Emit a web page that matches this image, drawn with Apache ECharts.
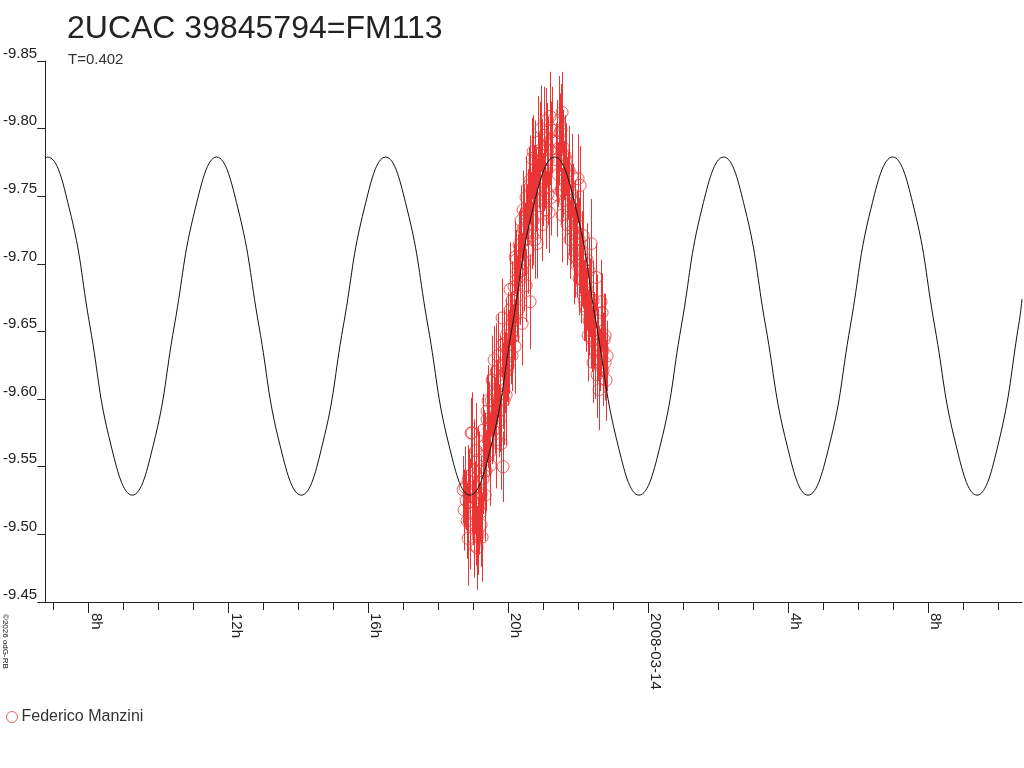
<!DOCTYPE html>
<html>
<head>
<meta charset="utf-8">
<script src="https://cdn.jsdelivr.net/npm/echarts@6/dist/echarts.min.js"></script>
<style>html,body{margin:0;padding:0;background:#fff;}#c{width:1024px;height:768px;}</style>
</head>
<body>
<div id="c"></div>
<script>
// Observation times in hours counted from 2008-03-13 00h
const obsHours = [
18.714,18.771,18.800,18.829,18.857,18.886,18.914,18.943,18.971,19.000,
19.029,19.057,19.086,19.114,19.143,19.143,19.171,19.200,19.229,19.257,
19.286,19.314,19.343,19.371,19.400,19.400,19.429,19.457,19.486,19.514,
19.543,19.571,19.600,19.629,19.657,19.686,19.714,19.743,19.771,19.800,
19.829,19.857,19.857,19.886,19.914,19.943,19.971,20.000,20.029,20.057,
20.086,20.114,20.143,20.171,20.200,20.200,20.229,20.257,20.286,20.314,
20.343,20.371,20.400,20.429,20.429,20.457,20.486,20.514,20.543,20.571,
20.600,20.629,20.657,20.686,20.714,20.714,20.743,20.771,20.800,20.829,
20.857,20.886,20.914,20.943,20.971,21.000,21.029,21.057,21.086,21.114,
21.143,21.171,21.200,21.200,21.229,21.257,
21.371,21.400,21.429,21.457,21.486,21.514,21.543,21.543,21.571,21.600,
21.629,21.657,21.686,21.714,21.743,21.771,21.800,21.829,21.857,21.886,
21.914,21.943,21.971,22.000,22.029,22.057,22.057,22.086,22.114,22.143,
22.171,22.200,22.229,22.257,22.286,22.314,22.343,22.371,22.400,22.429,
22.457,22.486,22.514,22.543,22.571,22.600,22.629,22.657,22.686,22.714,
22.743,22.771,22.800,
18.743,18.857,18.914,18.971,19.029,19.086,19.171,19.229,19.286,19.343,
19.429,19.486,19.543,19.600,19.657,19.714,19.771,19.829,19.886,19.943,
20.000,20.057,20.114,20.171,20.229,20.286,20.343,20.400,20.457,20.514,
20.571,20.629,20.686,20.771,20.829,20.914,20.971,21.029,21.086,21.143,
21.229,
21.400,21.457,21.514,21.571,21.629,21.686,21.743,21.800,21.857,21.914,
21.971,22.029,22.086,22.143,22.200,22.257,22.314,22.371,22.429,22.486,
22.543,22.600,22.657,22.714,22.771,22.829
];
const obsMags = [
-9.533,-9.535,-9.525,-9.510,-9.497,-9.543,-9.524,-9.575,-9.575,-9.516,
-9.547,-9.527,-9.507,-9.490,-9.555,-9.499,-9.521,-9.516,-9.530,-9.498,
-9.541,-9.558,-9.566,-9.547,-9.591,-9.585,-9.570,-9.578,-9.561,-9.599,
-9.614,-9.577,-9.603,-9.588,-9.620,-9.605,-9.632,-9.584,-9.625,-9.567,
-9.660,-9.550,-9.610,-9.641,-9.620,-9.603,-9.621,-9.651,-9.635,-9.666,
-9.645,-9.673,-9.646,-9.683,-9.705,-9.639,-9.703,-9.676,-9.694,-9.714,
-9.688,-9.732,-9.656,-9.740,-9.726,-9.701,-9.718,-9.749,-9.736,-9.710,
-9.758,-9.672,-9.743,-9.778,-9.783,-9.732,-9.766,-9.718,-9.755,-9.715,
-9.790,-9.769,-9.743,-9.800,-9.777,-9.755,-9.795,-9.766,-9.740,-9.788,
-9.752,-9.738,-9.809,-9.784,-9.749,-9.799,
-9.777,-9.790,-9.766,-9.806,-9.797,-9.755,-9.812,-9.736,-9.786,-9.769,
-9.747,-9.777,-9.729,-9.758,-9.740,-9.718,-9.751,-9.765,-9.725,-9.706,
-9.736,-9.715,-9.699,-9.763,-9.689,-9.758,-9.710,-9.681,-9.704,-9.695,
-9.673,-9.686,-9.666,-9.703,-9.647,-9.658,-9.675,-9.715,-9.644,-9.627,
-9.651,-9.636,-9.690,-9.618,-9.640,-9.607,-9.629,-9.672,-9.664,-9.621,
-9.644,-9.627,-9.614,
-9.518,-9.540,-9.507,-9.529,-9.492,-9.562,-9.547,-9.507,-9.577,-9.529,
-9.599,-9.551,-9.584,-9.629,-9.570,-9.614,-9.592,-9.640,-9.599,-9.647,
-9.625,-9.681,-9.632,-9.658,-9.688,-9.666,-9.710,-9.695,-9.725,-9.684,
-9.740,-9.762,-9.721,-9.777,-9.747,-9.784,-9.729,-9.769,-9.806,-9.777,
-9.792,
-9.751,-9.784,-9.799,-9.762,-9.780,-9.755,-9.769,-9.729,-9.747,-9.710,
-9.729,-9.718,-9.695,-9.721,-9.669,-9.681,-9.695,-9.655,-9.673,-9.644,
-9.658,-9.629,-9.647,-9.636,-9.647,-9.632
];
const obsErrs = [
0.025,0.030,0.022,0.028,0.035,0.020,0.032,0.026,0.030,0.024,
0.038,0.027,0.030,0.031,0.025,0.029,0.036,0.022,0.028,0.033,
0.026,0.034,0.024,0.030,0.027,0.032,0.021,0.035,0.029,0.025,
0.033,0.023,0.030,0.028,0.036,0.024,0.031,0.027,0.022,0.034,
0.029,0.026,0.032,0.025,0.030,0.037,0.023,0.028,0.031,0.026,
0.034,0.029,0.024,0.032,0.027,0.035,0.022,0.030,0.028,0.025,
0.033,0.026,0.031,0.029,0.024,0.036,0.027,0.030,0.023,0.032,
0.028,0.035,0.025,0.030,0.027,0.033,0.022,0.029,0.031,0.026,
0.034,0.028,0.024,0.032,0.030,0.027,0.036,0.025,0.029,0.031,
0.023,0.030,0.033,0.026,0.028,0.032,
0.027,0.031,0.024,0.033,0.029,0.026,0.030,0.035,0.028,0.022,
0.032,0.027,0.030,0.025,0.034,0.029,0.023,0.031,0.028,0.036,
0.026,0.030,0.024,0.033,0.027,0.029,0.032,0.025,0.035,0.028,
0.030,0.022,0.031,0.027,0.034,0.026,0.029,0.033,0.024,0.030,
0.028,0.036,0.025,0.032,0.027,0.030,0.023,0.031,0.029,0.026,
0.034,0.028,0.030,
0.030,0.026,0.033,0.028,0.024,0.035,0.029,0.031,0.027,0.034,
0.026,0.030,0.032,0.025,0.036,0.028,0.031,0.024,0.033,0.027,
0.030,0.035,0.026,0.029,0.032,0.024,0.031,0.028,0.034,0.027,
0.030,0.033,0.025,0.029,0.031,0.036,0.027,0.030,0.024,0.032,
0.028,
0.031,0.026,0.034,0.028,0.030,0.024,0.033,0.029,0.027,0.035,
0.025,0.031,0.028,0.033,0.026,0.030,0.024,0.032,0.029,0.027,
0.034,0.025,0.030,0.028,0.031,0.026
];
// Fitted light curve (hours, magnitude)
const curveHours = [6.771,6.84,7.45,8.05,8.65,9.26,9.86,10.46,11.07,11.67,12.27,12.88,13.48,14.09,14.69,15.29,15.90,16.50,17.10,17.71,18.31,18.91,19.52,20.12,20.72,21.33,21.93,22.53,23.14,23.74,24.35,24.95,25.55,26.16,26.76,27.36,27.97,28.57,29.18,29.78,30.38,30.99,31.59,32.19,32.80,33.40,34.00,34.61,34.686];
const curveMags = [-9.778,-9.779,-9.742,-9.654,-9.566,-9.529,-9.566,-9.654,-9.742,-9.779,-9.742,-9.654,-9.566,-9.529,-9.566,-9.654,-9.742,-9.779,-9.742,-9.654,-9.566,-9.529,-9.566,-9.654,-9.742,-9.779,-9.742,-9.654,-9.566,-9.529,-9.566,-9.654,-9.742,-9.779,-9.742,-9.654,-9.566,-9.529,-9.566,-9.654,-9.742,-9.779,-9.742,-9.654,-9.566,-9.529,-9.566,-9.658,-9.674];
const yTicks = [-9.85,-9.80,-9.75,-9.70,-9.65,-9.60,-9.55,-9.50,-9.45];
const majorHours = [8,12,16,20,24,28,32];
const majorLabels = ['8h','12h','16h','20h','2008-03-14','4h','8h'];
const minorHours = [7,8,9,10,11,12,13,14,15,16,17,18,19,20,21,22,23,24,25,26,27,28,29,30,31,32,33,34];
const observer = 'Federico Manzini';
const titleText = '2UCAC 39845794=FM113';
const subText = 'T=0.402';

const RED = '#ea3535';
const FONT = "'Liberation Sans', Arial, sans-serif";
const obs = obsHours.map((h, i) => [h, obsMags[i], obsErrs[i]]);
const curve = curveHours.map((h, i) => [h, curveMags[i]]);
const xMin = 6.771, xMax = 34.686;

const chart = echarts.init(document.getElementById('c'));
chart.setOption({
  animation: false,
  backgroundColor: '#fff',
  title: [
    {text: titleText, left: 62, top: 8, textStyle: {fontFamily: FONT, fontSize: 32, fontWeight: 'normal', color: '#222'}},
    {text: subText, left: 63, top: 47, textStyle: {fontFamily: FONT, fontSize: 15, fontWeight: 'normal', color: '#333'}}
  ],
  legend: {
    data: [observer], left: 1, top: 704, itemWidth: 11, itemHeight: 11, icon: 'circle', itemGap: 4,
    itemStyle: {color: 'transparent', borderColor: RED, borderWidth: 1},
    textStyle: {fontFamily: FONT, fontSize: 16, color: '#333', padding: [0,0,0,-1]}
  },
  grid: {left: 45, right: 2, top: 61, bottom: 166},
  xAxis: [
    {type: 'value', min: xMin, max: xMax, axisLine: {show: true, onZero: false, lineStyle: {color: '#222'}},
     axisTick: {show: true, customValues: minorHours, length: 8, lineStyle: {color: '#222'}},
     axisLabel: {show: false}, splitLine: {show: false}},
    {type: 'value', position: 'bottom', min: xMin, max: xMax, axisLine: {show: false},
     axisTick: {show: true, customValues: majorHours, length: 11, lineStyle: {color: '#222'}},
     axisLabel: {show: true, customValues: majorHours, rotate: -90, margin: 11, align: 'left', verticalAlign: 'bottom',
       fontFamily: FONT, fontSize: 15, color: '#222',
       formatter: v => majorLabels[majorHours.indexOf(Math.round(v))]},
     splitLine: {show: false}}
  ],
  yAxis: {
    type: 'value', inverse: true, min: -9.85, max: -9.45,
    axisLine: {show: true, lineStyle: {color: '#222'}},
    axisTick: {show: true, customValues: yTicks, length: 8, lineStyle: {color: '#222'}},
    axisLabel: {customValues: yTicks, margin: 8, verticalAlign: 'bottom', fontFamily: FONT, fontSize: 15, color: '#222',
      formatter: v => v.toFixed(2)},
    splitLine: {show: false}
  },
  series: [
    {type: 'custom', name: 'errors', data: obs, clip: true, z: 2, silent: true,
     renderItem: (params, api) => {
       const x = api.value(0), y = api.value(1), e = api.value(2);
       const p1 = api.coord([x, y - e]), p2 = api.coord([x, y + e]);
       return {type: 'line', shape: {x1: Math.round(p1[0]) + 0.5, y1: p1[1], x2: Math.round(p2[0]) + 0.5, y2: p2[1]},
               style: {stroke: RED, lineWidth: 1}};
     }},
    {type: 'scatter', name: observer, data: obs.map(d => [d[0], d[1]]), symbol: 'circle', symbolSize: 12, z: 3,
     itemStyle: {color: 'transparent', borderColor: RED, borderWidth: 1}},
    {type: 'line', name: 'fit', data: curve, smooth: 0.45, showSymbol: false, z: 4, clip: true,
     lineStyle: {color: '#111', width: 1}}
  ],
  graphic: [
    {type: 'text', x: 1, y: 614, rotation: -Math.PI / 2,
     style: {text: '©2026 odG-RB', fontSize: 8, fontFamily: FONT, fill: '#111', verticalAlign: 'bottom', align: 'left'}}
  ]
});
</script>
</body>
</html>
